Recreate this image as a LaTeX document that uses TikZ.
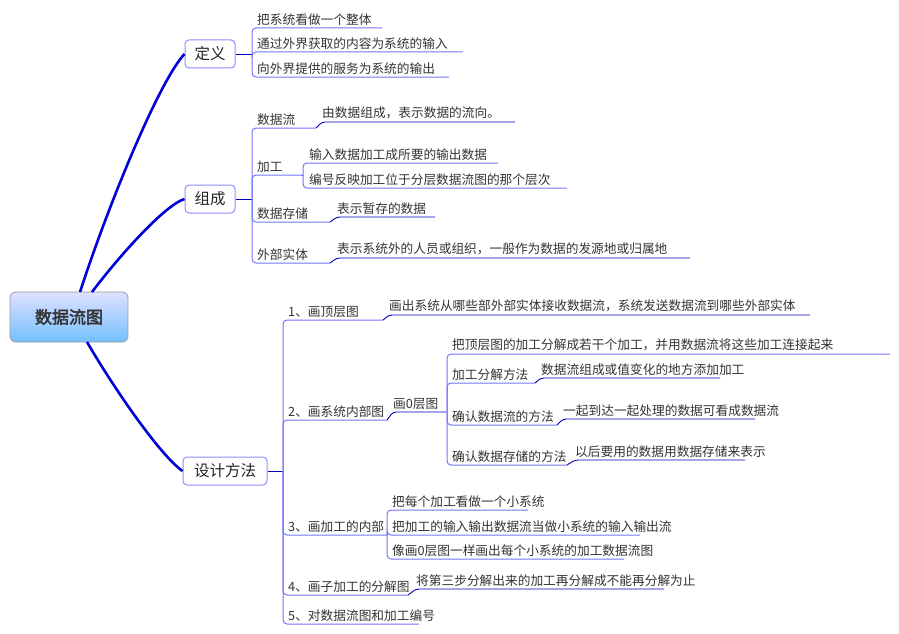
\documentclass[tikz,border=0pt]{standalone}
\usepackage{fontspec}
\setmainfont{Noto Sans CJK SC}
\newfontfamily\cjkb[FakeBold=2.5]{Noto Sans CJK SC}
\begin{document}
\begin{tikzpicture}[x=1pt,y=-1pt,
  txt/.style={anchor=south west,inner sep=0pt,yshift=2.5pt,font=\fontsize{12.7}{14}\selectfont,text=black!80},
  ul/.style={draw=blue!75!black,line width=0.9pt,rounded corners=3pt},
  br/.style={draw=blue!55!white,line width=1pt,rounded corners=4pt},
  topic/.style={draw=blue!45!white,line width=1pt,rounded corners=4pt,fill=white,font=\fontsize{15.5}{16}\selectfont,text=black!85,minimum height=28pt,inner xsep=6pt},
  mainline/.style={draw=blue!85!black,line width=2.6pt}]
\useasboundingbox (0,0) rectangle (899,634);
\newcommand\lf[5]{\coordinate (#1s) at (#2,#3);\coordinate (#1e) at (#4,#3);\node[txt] (#1) at (#2,#3) {#5};}
% root
\node[draw=black!40,line width=0.8pt,rounded corners=6pt,top color=blue!12!white,bottom color=blue!45!cyan!55!white,minimum width=118pt,minimum height=50pt,font=\cjkb\fontsize{17}{18}\selectfont,text=black!80] (root) at (69,317) {数据流图};
\node[topic,minimum width=50pt] (def) at (210,54) {定义};
\node[topic,minimum width=50pt] (com) at (210,199) {组成};
\node[topic,minimum width=84pt] (des) at (225,471) {设计方法};
\draw[mainline] (80,292) .. controls (110,200) and (160,80) .. (def.west);
\draw[mainline] (92,292) .. controls (120,255) and (165,205) .. (com.west);
\draw[mainline] (87,342) .. controls (115,390) and (160,455) .. (des.west);
% 定义
\coordinate (defb) at (252,54);
\draw[ul] (def.east) -- (defb);
\lf{d1}{257}{28}{382}{把系统看做一个整体}
\lf{d2}{257}{52}{463}{通过外界获取的内容为系统的输入}
\lf{d3}{257}{77}{449}{向外界提供的服务为系统的输出}
\foreach \c in {d1,d2,d3} \draw[br] (defb) |- (\c e);
% 组成
\coordinate (comb) at (252,199);
\draw[ul] (com.east) -- (comb);
\lf{c1}{257}{128}{316}{数据流}
\lf{c2}{257}{175}{302}{加工}
\lf{c3}{257}{222}{330}{数据存储}
\lf{c4}{257}{263}{330}{外部实体}
\foreach \c in {c1,c2,c3,c4} \draw[br] (comb) |- (\c e);
\lf{c1a}{322}{122}{515}{由数据组成，表示数据的流向。}
\draw[ul] (c1e) -- (c1as) -- (c1ae);
\lf{c2a}{309}{163}{498}{输入数据加工成所要的输出数据}
\lf{c2b}{309}{188}{567}{编号反映加工位于分层数据流图的那个层次}
\coordinate (c2b0) at (303,175);
\draw[ul] (c2e) -- (c2b0);
\foreach \c in {c2a,c2b} \draw[br] (c2b0) |- (\c e);
\lf{c3a}{337}{217}{435}{表示暂存的数据}
\draw[ul] (c3e) -- (c3as) -- (c3ae);
\lf{c4a}{337}{258}{690}{表示系统外的人员或组织，一般作为数据的发源地或归属地}
\draw[ul] (c4e) -- (c4as) -- (c4ae);
% 设计方法
\coordinate (desb) at (283,471);
\draw[ul] (des.east) -- (desb);
\lf{s1}{288}{320}{383}{1、画顶层图}
\lf{s2}{288}{420}{387}{2、画系统内部图}
\lf{s3}{288}{535}{387}{3、画加工的内部}
\lf{s4}{288}{595}{408}{4、画子加工的分解图}
\lf{s5}{288}{624}{419}{5、对数据流图和加工编号}
\foreach \c in {s1,s2,s3,s4,s5} \draw[br] (desb) |- (\c e);
\lf{s1a}{389}{315}{810}{画出系统从哪些部外部实体接收数据流，系统发送数据流到哪些外部实体}
\draw[ul] (s1e) -- (s1as) -- (s1ae);
\lf{s2a}{393}{412}{446}{画0层图}
\draw[ul] (s2e) -- (s2as) -- (s2ae);
\coordinate (s2b) at (447,412);
\lf{z1}{452}{354}{890}{把顶层图的加工分解成若干个加工，并用数据流将这些加工连接起来}
\lf{z2}{452}{383}{535}{加工分解方法}
\lf{z3}{452}{425}{557}{确认数据流的方法}
\lf{z4}{452}{465}{567}{确认数据存储的方法}
\foreach \c in {z1,z2,z3,z4} \draw[br] (s2b) |- (\c e);
\lf{z2a}{541}{378}{720}{数据流组成或值变化的地方添加加工}
\draw[ul] (z2e) -- (z2as) -- (z2ae);
\lf{z3a}{563}{419}{755}{一起到达一起处理的数据可看成数据流}
\draw[ul] (z3e) -- (z3as) -- (z3ae);
\lf{z4a}{575}{460}{745}{以后要用的数据用数据存储来表示}
\draw[ul] (z4e) -- (z4as) -- (z4ae);
\coordinate (s3b) at (387,535);
\lf{t1}{392}{510}{528}{把每个加工看做一个小系统}
\lf{t2}{392}{535}{640}{把加工的输入输出数据流当做小系统的输入输出流}
\lf{t3}{392}{559}{624}{像画0层图一样画出每个小系统的加工数据流图}
\foreach \c in {t1,t2,t3} \draw[br] (s3b) |- (\c e);
\lf{s4a}{416}{589}{664}{将第三步分解出来的加工再分解成不能再分解为止}
\draw[ul] (s4e) -- (s4as) -- (s4ae);
\end{tikzpicture}
\end{document}
